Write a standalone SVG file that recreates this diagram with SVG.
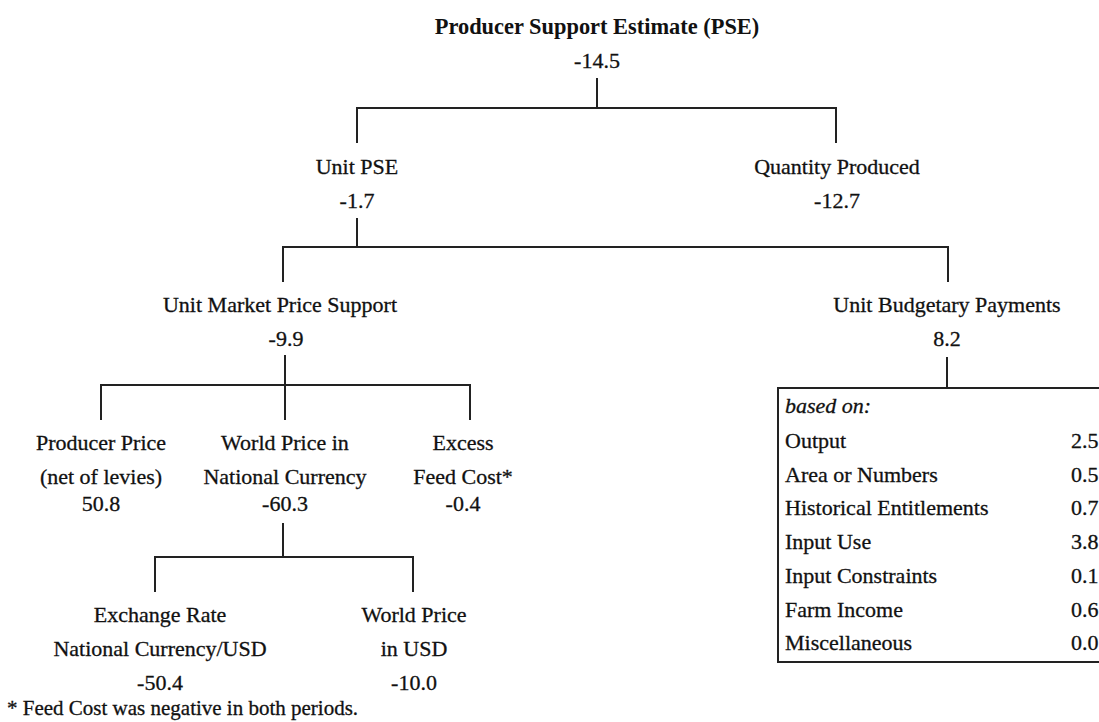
<svg xmlns="http://www.w3.org/2000/svg" width="1099" height="722" viewBox="0 0 1099 722">
  <style>
    text { font-family: "Liberation Serif", "Times New Roman", serif; font-size: 22px; fill: #111; stroke: #111; stroke-width: 0.3px; }
    .c { text-anchor: middle; }
    .b { font-weight: bold; stroke-width: 0; font-size: 22.4px; }
    .i { font-style: italic; }
    .note { font-size: 21px; }
    .ln { stroke: #222; stroke-width: 2; fill: none; }
  </style>
  <rect width="1099" height="722" fill="#fff"/>

  <!-- tree connectors -->
  <g id="connectors" class="ln">
    <path d="M597 78 V108 M357 143 V108 H836 V143"/>
    <path d="M357 218 V247 M283 282 V247 H948 V282"/>
    <path d="M285 355 V420 M101 420 V385 H470 V420"/>
    <path d="M283 523 V557 M155 592 V557 H413 V592"/>
    <path d="M947 357 V388"/>
  </g>

  <g id="pse">
    <text class="c b" x="597" y="34">Producer Support Estimate (PSE)</text>
    <text class="c" x="597" y="68">-14.5</text>
  </g>
  <g id="unit-pse">
    <text class="c" x="357" y="174">Unit PSE</text>
    <text class="c" x="357" y="208">-1.7</text>
  </g>
  <g id="quantity">
    <text class="c" x="837" y="174">Quantity Produced</text>
    <text class="c" x="837" y="208">-12.7</text>
  </g>
  <g id="market-support">
    <text class="c" x="280" y="312">Unit Market Price Support</text>
    <text class="c" x="286" y="346">-9.9</text>
  </g>
  <g id="budgetary">
    <text class="c" x="947" y="312">Unit Budgetary Payments</text>
    <text class="c" x="947" y="346">8.2</text>
  </g>
  <g id="producer-price">
    <text class="c" x="101" y="450">Producer Price</text>
    <text class="c" x="101" y="484">(net of levies)</text>
    <text class="c" x="101" y="511">50.8</text>
  </g>
  <g id="world-price-nc">
    <text class="c" x="285" y="450">World Price in</text>
    <text class="c" x="285" y="484">National Currency</text>
    <text class="c" x="285" y="511">-60.3</text>
  </g>
  <g id="feed-cost">
    <text class="c" x="463" y="450">Excess</text>
    <text class="c" x="463" y="484">Feed Cost*</text>
    <text class="c" x="463" y="511">-0.4</text>
  </g>
  <g id="exchange-rate">
    <text class="c" x="160" y="622">Exchange Rate</text>
    <text class="c" x="160" y="656">National Currency/USD</text>
    <text class="c" x="160" y="690">-50.4</text>
  </g>
  <g id="world-price-usd">
    <text class="c" x="414" y="622">World Price</text>
    <text class="c" x="414" y="656">in USD</text>
    <text class="c" x="414" y="690">-10.0</text>
  </g>

  <!-- payment categories -->
  <g id="payments-box">
    <rect x="778" y="388" width="340" height="274" class="ln"/>
    <text class="i" x="785" y="413">based on:</text>
    <text x="785" y="448">Output</text>
    <text x="785" y="482">Area or Numbers</text>
    <text x="785" y="515">Historical Entitlements</text>
    <text x="785" y="549">Input Use</text>
    <text x="785" y="583">Input Constraints</text>
    <text x="785" y="617">Farm Income</text>
    <text x="785" y="650">Miscellaneous</text>
    <text x="1071" y="448">2.5</text>
    <text x="1071" y="482">0.5</text>
    <text x="1071" y="515">0.7</text>
    <text x="1071" y="549">3.8</text>
    <text x="1071" y="583">0.1</text>
    <text x="1071" y="617">0.6</text>
    <text x="1071" y="650">0.0</text>
  </g>

  <text id="footnote" class="note" x="7" y="715">* Feed Cost was negative in both periods.</text>
</svg>
